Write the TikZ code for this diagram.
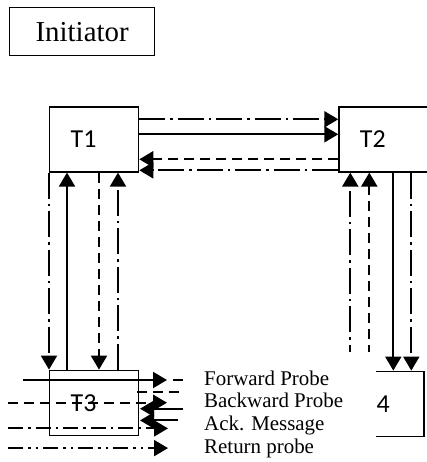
\documentclass[tikz,border=0pt]{standalone}
\usepackage{fontspec}
\setmainfont{Liberation Serif}
\newfontfamily\boxfont{Carlito}
\usetikzlibrary{positioning, arrows.meta}

\begin{document}
\begin{tikzpicture}[
        box/.style={draw, line width=1.3bp, rectangle, minimum width=89bp, minimum height=65bp, inner sep=0pt, font=\boxfont\fontsize{26}{26}\selectfont},
        tbox/.style={box, text width=47bp, inner xsep=21bp, align=left},
        arrow/.style={-{Triangle[length=14bp, width=16bp]}, line width=2.1bp},
        dashdot/.style={dash pattern=on 26bp off 5bp on 2.5bp off 5bp},
        legdashdot/.style={dash pattern=on 15bp off 5bp on 2.5bp off 5bp},
        dashline/.style={dash pattern=on 10bp off 6bp},
        dashdotdot/.style={dash pattern=on 15bp off 5bp on 2.5bp off 5bp on 2.5bp off 5bp},
        legtext/.style={inner sep=0pt, text height=16.15bp, text depth=6.15bp, font=\fontsize{21}{21}\selectfont}
    ]
    \useasboundingbox (0,0) rectangle (427bp,-462bp);

    \node[box, anchor=north west, minimum width=145bp, minimum height=48bp, font=\fontsize{29}{29}\selectfont] (init) at (9bp,-7bp) {Initiator};
    \node[tbox, below right=50bp and 40bp of init.south west] (T1) {T1};
    \node[tbox, right=199bp of T1] (T2) {T2};
    \node[tbox, below=197bp of T1] (T3) {T3};
    \node[box, below=198bp of T2, xshift=-4bp, text width=31bp, inner xsep=29bp, align=left] (T4) {T4};

    % T1 and T2
    \draw[arrow, dashdot] ([yshift=-13bp]T1.north east) -- ([yshift=-13bp]T2.north west);
    \draw[arrow] ([yshift=-28bp]T1.north east) -- ([yshift=-28bp]T2.north west);
    \draw[arrow, dashline] ([yshift=-53bp]T2.north west) -- ([yshift=-53bp]T1.north east);
    \draw[arrow, dashdot] ([yshift=-64bp]T2.north west) -- ([yshift=-64bp]T1.north east);

    % T1 and T3
    \draw[arrow, dashdot] (T1.south west) -- (T3.north west);
    \draw[arrow] ([xshift=18bp]T3.north west) -- ([xshift=18bp]T1.south west);
    \draw[arrow, dashline] ([xshift=50bp]T1.south west) -- ([xshift=50bp]T3.north west);
    \draw[arrow, dashdot] ([xshift=69bp]T3.north west) -- ([xshift=69bp]T1.south west);

    % T2 and T4
    \draw[arrow, dashdot] ([xshift=16bp]T4.north west) -- ([xshift=12bp]T2.south west);
    \draw[arrow, dashline] ([xshift=35bp]T4.north west) -- ([xshift=31bp]T2.south west);
    \draw[arrow] ([xshift=55bp]T2.south west) -- ([xshift=59bp]T4.north west);
    \draw[arrow, dashdot] ([xshift=73bp]T2.south west) -- ([xshift=77bp]T4.north west);

    % legend
    \node[fill=white, inner sep=0pt, anchor=north west, minimum width=186bp, minimum height=110bp] (legend) at (190bp,-352bp) {};
    \node[legtext, anchor=west] (fwd) at (204bp,-380bp) {Forward Probe};
    \node[legtext, below=0pt of fwd.south west, anchor=north west] (bwd) {Backward Probe};
    \node[legtext, below=0pt of bwd.south west, anchor=north west] (ack) {Ack. Message};
    \node[legtext, below=0pt of ack.south west, anchor=north west] (ret) {Return probe};

    \draw[arrow] ([xshift=-181bp]fwd.west) -- ([xshift=-37bp]fwd.west);
    \draw[line width=2.1bp] ([xshift=-31bp]fwd.west) -- ([xshift=-21bp]fwd.west);
    \draw[line width=2.1bp, dashline] ([xshift=-67bp, yshift=-12bp]fwd.west) -- ([xshift=-21bp, yshift=-12bp]fwd.west);
    \draw[arrow, dashline] ([xshift=-196bp]bwd.west) -- ([xshift=-37bp]bwd.west);
    \draw[arrow] ([xshift=-21bp, yshift=-6bp]bwd.west) -- ([xshift=-64bp, yshift=-6bp]bwd.west);
    \draw[arrow] ([xshift=-26bp, yshift=5bp]ack.west) -- ([xshift=-64bp, yshift=5bp]ack.west);
    \draw[arrow, legdashdot] ([xshift=-196bp, yshift=-3bp]ack.west) -- ([xshift=-36bp, yshift=-3bp]ack.west);
    \draw[arrow, dashdotdot] ([xshift=-196bp]ret.west) -- ([xshift=-36bp]ret.west);
\end{tikzpicture}
\end{document}
